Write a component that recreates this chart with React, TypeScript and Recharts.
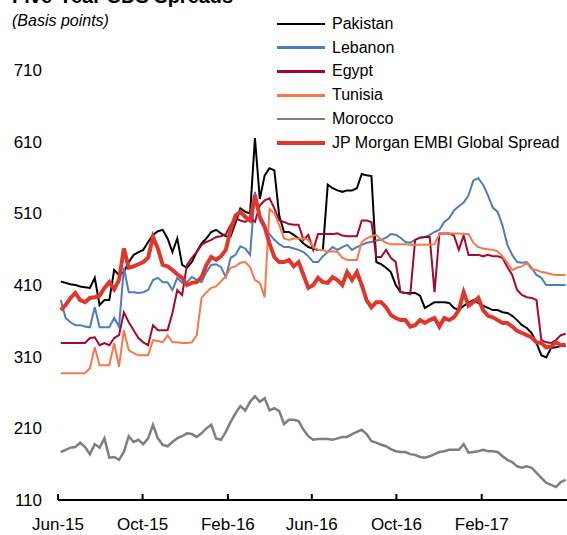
import React from "react";
import { LineChart, Line, XAxis, YAxis } from "recharts";

const DAY = 86400000;
const ORIGIN = Date.UTC(2015, 5, 1);
const FIRST = Date.UTC(2015, 5, 5);

const xTicks = [
  Date.UTC(2015, 5, 1),
  Date.UTC(2015, 9, 1),
  Date.UTC(2016, 1, 1),
  Date.UTC(2016, 5, 1),
  Date.UTC(2016, 9, 1),
  Date.UTC(2017, 1, 1),
];
const xTickLabels = ["Jun-15", "Oct-15", "Feb-16", "Jun-16", "Oct-16", "Feb-17"];
const yTicks = [110, 210, 310, 410, 510, 610, 710];

// weekly readings, basis points
const pakistan = [
  415, 413, 411, 410, 408, 407, 406, 420, 382, 389,
  389, 431, 424, 428, 442, 452, 456, 459, 470, 480,
  485, 487, 475, 456, 475, 438, 434, 442, 456, 468,
  475, 484, 487, 482, 478, 478, 497, 517, 512, 510,
  615, 530, 563, 573, 570, 507, 484, 484, 480, 475,
  468, 463, 461, 459, 459, 550, 545, 542, 540, 542,
  542, 545, 565, 563, 562, 442, 439, 434, 428, 410,
  400, 399, 399, 399, 395, 378, 382, 386, 386, 386,
  385, 378, 375, 381, 385, 389, 385, 381, 378, 375,
  375, 372, 371, 367, 361, 354, 350, 343, 329, 312,
  309, 322, 323, 325, 325,
];
const lebanon = [
  389, 364, 358, 354, 354, 352, 351, 379, 351, 351,
  351, 364, 352, 434, 400, 400, 399, 400, 403, 417,
  420, 414, 414, 403, 420, 413, 414, 421, 417, 414,
  428, 438, 439, 435, 421, 448, 452, 464, 461, 452,
  540, 500, 489, 481, 473, 467, 463, 463, 461, 459,
  456, 450, 442, 442, 450, 456, 463, 459, 463, 466,
  459, 463, 466, 469, 470, 472, 473, 476, 481, 480,
  476, 470, 469, 473, 476, 477, 480, 484, 487, 498,
  503, 514, 520, 525, 535, 556, 559, 550, 535, 518,
  512, 493, 466, 452, 442, 441, 442, 434, 424, 420,
  410, 410, 410, 410, 410,
];
const egypt = [
  329, 329, 329, 329, 329, 329, 336, 337, 326, 329,
  326, 336, 340, 372, 358, 347, 336, 330, 326, 354,
  347, 347, 347, 371, 403, 396, 438, 448, 456, 466,
  470, 473, 477, 478, 481, 494, 503, 500, 498, 503,
  498, 521, 528, 531, 517, 500, 498, 495, 494, 494,
  473, 480, 459, 481, 481, 481, 481, 482, 479, 478,
  478, 478, 500, 500, 498, 449, 449, 459, 448, 442,
  400, 399, 397, 473, 476, 477, 477, 400, 482, 482,
  482, 479, 459, 479, 452, 452, 452, 450, 452, 450,
  450, 448, 435, 424, 403, 396, 393, 392, 389, 333,
  330, 329, 333, 340, 342,
];
const tunisia = [
  287, 287, 287, 287, 287, 287, 294, 323, 298, 298,
  298, 329, 296, 347, 319, 315, 312, 312, 312, 333,
  332, 330, 340, 330, 330, 329, 329, 330, 340, 392,
  400, 406, 408, 415, 422, 434, 436, 441, 442, 435,
  417, 413, 393, 516, 510, 494, 475, 473, 475, 475,
  475, 473, 463, 459, 459, 456, 457, 456, 448, 445,
  445, 445, 470, 475, 478, 480, 473, 469, 467, 467,
  467, 467, 466, 466, 466, 466, 466, 467, 481, 482,
  482, 482, 482, 481, 481, 469, 463, 461, 460, 459,
  457, 450, 441, 431, 434, 436, 441, 432, 431, 428,
  427, 425, 424, 424, 424,
];
const morocco = [
  177, 180, 183, 184, 190, 184, 174, 188, 183, 196,
  169, 170, 166, 177, 199, 191, 194, 188, 196, 215,
  196, 187, 185, 191, 196, 199, 203, 202, 198, 203,
  210, 215, 196, 194, 205, 219, 231, 241, 235, 247,
  255, 247, 252, 235, 238, 234, 216, 222, 222, 220,
  208, 199, 194, 195, 195, 195, 194, 196, 198, 198,
  202, 205, 208, 202, 192, 190, 187, 185, 181, 178,
  177, 177, 174, 173, 170, 169, 171, 174, 177, 178,
  180, 180, 180, 188, 176, 177, 178, 180, 178, 178,
  177, 171, 166, 163, 157, 155, 157, 155, 148, 141,
  134, 131, 128, 135, 138,
];
const embi = [
  375, 382, 392, 399, 389, 386, 392, 393, 395, 406,
  414, 404, 417, 461, 434, 436, 439, 442, 448, 477,
  461, 438, 436, 431, 425, 420, 410, 413, 414, 421,
  438, 449, 445, 450, 459, 487, 507, 512, 505, 500,
  535, 505, 491, 468, 449, 442, 442, 445, 436, 442,
  424, 406, 410, 420, 414, 413, 421, 417, 410, 428,
  417, 428, 410, 389, 379, 386, 386, 379, 368, 364,
  361, 361, 352, 354, 361, 357, 361, 364, 352, 364,
  361, 365, 375, 400, 381, 386, 392, 375, 367, 365,
  361, 357, 357, 352, 346, 343, 340, 337, 330, 329,
  323, 324, 330, 326, 327,
];

const series = [
  { key: "pakistan", name: "Pakistan", color: "#000000", width: 2 },
  { key: "lebanon", name: "Lebanon", color: "#4a7ebf", width: 2 },
  { key: "egypt", name: "Egypt", color: "#a6092d", width: 2 },
  { key: "tunisia", name: "Tunisia", color: "#f7784b", width: 2 },
  { key: "morocco", name: "Morocco", color: "#7f7f7f", width: 2.5 },
  { key: "embi", name: "JP Morgan EMBI Global Spread", color: "#e0372c", width: 4 },
];

const data = pakistan.map((_, i) => ({
  date: FIRST + i * 7 * DAY,
  pakistan: pakistan[i],
  lebanon: lebanon[i],
  egypt: egypt[i],
  tunisia: tunisia[i],
  morocco: morocco[i],
  embi: embi[i],
}));

function XTick(props: any) {
  const { x, y, payload } = props;
  const label = xTickLabels[xTicks.indexOf(payload.value)];
  return (
    <g>
      <line x1={x} x2={x} y1={y - 6} y2={y} stroke="#000" strokeWidth={2} />
      <text x={x} y={y + 30} textAnchor="middle" fontSize={17} fill="#000">
        {label}
      </text>
    </g>
  );
}

export default function App() {
  return (
    <div
      style={{
        position: "absolute",
        left: 0,
        top: 0,
        width: 567,
        height: 535,
        overflow: "hidden",
        background: "#fff",
        fontFamily: "'Liberation Sans', Arial, sans-serif",
      }}
    >
      <div
        style={{
          position: "absolute",
          left: 12,
          top: -14,
          fontSize: 20,
          lineHeight: "20px",
          fontWeight: "bold",
          whiteSpace: "nowrap",
        }}
      >
        Five-Year CDS Spreads
      </div>
      <div
        style={{
          position: "absolute",
          left: 12,
          top: 12,
          fontSize: 16,
          lineHeight: "18px",
          fontStyle: "italic",
        }}
      >
        (Basis points)
      </div>
      <LineChart width={567} height={535} data={data} margin={{ top: 70, right: 0, bottom: 0, left: 0 }}>
        <XAxis
          dataKey="date"
          type="number"
          scale="time"
          domain={[ORIGIN, ORIGIN + 734 * DAY]}
          ticks={xTicks}
          tick={<XTick />}
          tickLine={false}
          tickSize={0}
          tickMargin={0}
          height={35}
          axisLine={{ stroke: "#000", strokeWidth: 2 }}
          interval={0}
        />
        <YAxis
          domain={[110, 710]}
          ticks={yTicks}
          width={58}
          axisLine={false}
          tickLine={false}
          tickSize={0}
          tickMargin={16}
          tick={{ fontSize: 17, fill: "#000" }}
          interval={0}
        />
        {series.map((s) => (
          <Line
            key={s.key}
            dataKey={s.key}
            name={s.name}
            stroke={s.color}
            strokeWidth={s.width}
            dot={false}
            type="linear"
            isAnimationActive={false}
          />
        ))}
      </LineChart>
      <div style={{ position: "absolute", left: 277, top: 12 }}>
        {series.map((s) => (
          <div key={s.key} style={{ display: "flex", alignItems: "center", height: 23.8 }}>
            <div style={{ width: 48, height: s.width === 4 ? 4 : 2.5, background: s.color, marginRight: 7 }} />
            <span style={{ fontSize: 16, color: "#000", whiteSpace: "nowrap" }}>{s.name}</span>
          </div>
        ))}
      </div>
    </div>
  );
}
